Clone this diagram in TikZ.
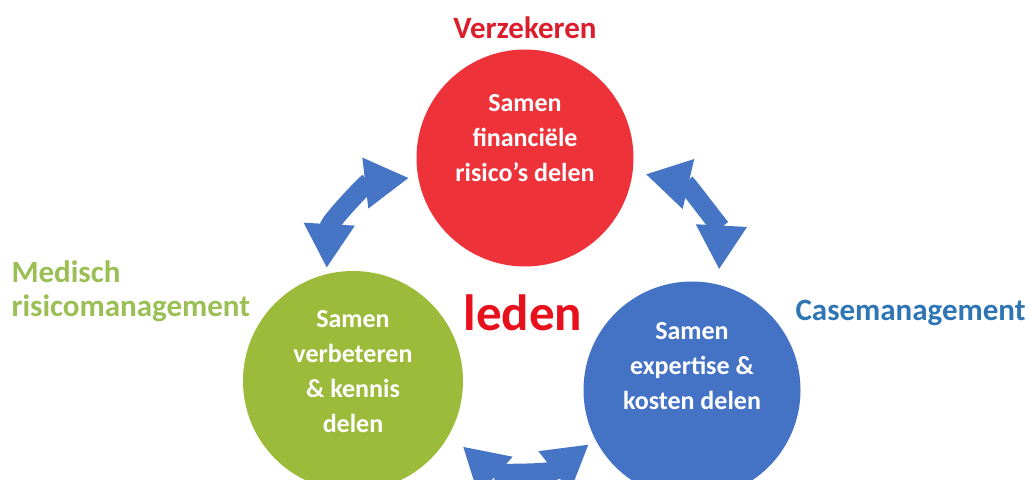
\documentclass[tikz,border=0pt]{standalone}
\usepackage{fontspec}
\setmainfont{Carlito}
\usetikzlibrary{arrows.meta}

\definecolor{rood}{HTML}{EE3239}
\definecolor{roodtekst}{HTML}{DC1E2C}
\definecolor{ledenrood}{HTML}{E8101C}
\definecolor{groen}{HTML}{9CBB3A}
\definecolor{groentekst}{HTML}{9BBE55}
\definecolor{blauw}{HTML}{4472C4}
\definecolor{blauwtekst}{HTML}{2E75B6}
\definecolor{pijl}{HTML}{4775C6}

\tikzset{
	bol/.style={circle, minimum size=217pt, inner sep=0pt},
	binnen/.style={text=white, align=center, font=\fontsize{26}{35}\selectfont\bfseries},
	label/.style={font=\fontsize{31}{34}\selectfont\bfseries},
	dubbel/.style={draw=pijl, line width=19pt, {Triangle[length=44pt,width=48pt]}-{Triangle[length=44pt,width=48pt]}}
}

\begin{document}
\begin{tikzpicture}[x=1pt,y=1pt]
	\clip (0,0) rectangle (1032,479);
	% cirkels
	\node[bol, fill=rood] (verz) at (525,321) {};
	\node[bol, fill=groen, minimum size=220pt] (med) at (353,98) {};
	\node[bol, fill=blauw] (case) at (692,89) {};
	\node[binnen] (verztxt) at (525,341) {Samen\\financiële\\risico’s delen};
	\node[binnen] (medtxt) at (353,107) {Samen\\verbeteren\\\& kennis\\delen};
	\node[binnen] (casetxt) at (692,113) {Samen\\expertise \&\\kosten delen};
	% teksten
	\node[label, text=roodtekst] (verzlab) at (525,451) {Verzekeren};
	\node[label, text=groentekst, anchor=west, align=left] (medlab) at (8,188) {Medisch\\risicomanagement};
	\node[label, text=blauwtekst, anchor=west] (caselab) at (792,166) {Casemanagement};
	\node[text=ledenrood, font=\fontsize{51}{51}\selectfont\bfseries] (leden) at (523,166) {leden};
	% pijlen
	\draw[dubbel, shorten <=6pt, shorten >=9pt] (med.104) to[bend left=40] (verz.190);
	\draw[dubbel, shorten <=13pt, shorten >=15pt] (verz.-7) to[bend left=40] (case.76);
	\draw[dubbel, shorten <=18pt, shorten >=8pt] (med.-29) to[bend right=40] (case.207);
\end{tikzpicture}
\end{document}
